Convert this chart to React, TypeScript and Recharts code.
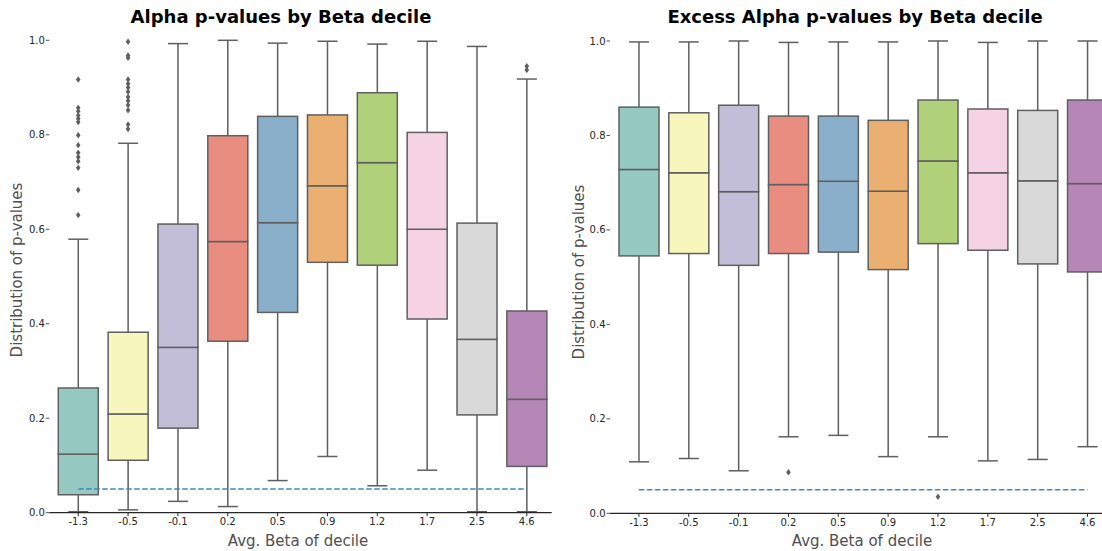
import { Bar, ComposedChart, Line, XAxis, YAxis } from 'recharts'

// avg beta of each decile (x categories)
const deciles = ['-1.3', '-0.5', '-0.1', '0.2', '0.5', '0.9', '1.2', '1.7', '2.5', '4.6']

// alpha p-values: whisker ends, quartiles
const alphaLow = [0.002, 0.006, 0.024, 0.013, 0.068, 0.119, 0.057, 0.09, 0.002, 0.002]
const alphaQ1 = [0.038, 0.111, 0.179, 0.363, 0.424, 0.53, 0.524, 0.41, 0.207, 0.098]
const alphaMedian = [0.124, 0.209, 0.35, 0.574, 0.614, 0.692, 0.741, 0.6, 0.367, 0.24]
const alphaQ3 = [0.264, 0.382, 0.611, 0.798, 0.839, 0.842, 0.889, 0.805, 0.613, 0.427]
const alphaHigh = [0.579, 0.782, 0.993, 1.0, 0.994, 0.998, 0.992, 0.998, 0.987, 0.918]
const alphaOutliers: Record<string, number[]> = {
  '-1.3': [0.917, 0.857, 0.85, 0.841, 0.834, 0.827, 0.799, 0.778, 0.762, 0.753, 0.744, 0.73, 0.683, 0.63],
  '-0.5': [0.997, 0.968, 0.963, 0.917, 0.908, 0.9, 0.891, 0.88, 0.872, 0.863, 0.852, 0.822, 0.812],
  '4.6': [0.945, 0.937],
}

// excess alpha p-values
const excessLow = [0.109, 0.116, 0.09, 0.162, 0.165, 0.12, 0.162, 0.111, 0.114, 0.141]
const excessQ1 = [0.545, 0.55, 0.525, 0.55, 0.553, 0.516, 0.571, 0.557, 0.528, 0.511]
const excessMedian = [0.728, 0.721, 0.681, 0.696, 0.703, 0.682, 0.746, 0.721, 0.704, 0.698]
const excessQ3 = [0.86, 0.848, 0.864, 0.841, 0.841, 0.832, 0.875, 0.856, 0.853, 0.875]
const excessHigh = [0.998, 0.998, 1.0, 0.997, 0.998, 0.998, 1.0, 0.997, 1.0, 1.0]
const excessOutliers: Record<string, number[]> = {
  '0.2': [0.087],
  '1.2': [0.035],
}

const pThreshold = 0.05
const yTicks = [0, 0.2, 0.4, 0.6, 0.8, 1.0]

const boxColors = ['#95c9c1', '#f6f6bd', '#c2bed7', '#e98d80', '#8aafca', '#e9b072', '#b0d179', '#f5d3e4', '#d9d9d9', '#b687b6']
const edge = '#5f5f5f'
const font = '"DejaVu Sans", sans-serif'

type Row = Record<string, string | number>

function buildRows(lo: number[], q1: number[], med: number[], q3: number[], hi: number[], outliers: Record<string, number[]>) {
  return deciles.map((cat, i) => {
    const row: Row = {
      cat,
      base: lo[i],
      lowWhisker: q1[i] - lo[i],
      boxLow: med[i] - q1[i],
      boxHigh: q3[i] - med[i],
      highWhisker: hi[i] - q3[i],
      thr: pThreshold,
      color: boxColors[i],
    }
    ;(outliers[cat] ?? []).forEach((v, k) => {
      row[`o${k}`] = v
    })
    return row
  })
}

const alphaRows = buildRows(alphaLow, alphaQ1, alphaMedian, alphaQ3, alphaHigh, alphaOutliers)
const excessRows = buildRows(excessLow, excessQ1, excessMedian, excessQ3, excessHigh, excessOutliers)
const alphaOutCount = Math.max(...Object.values(alphaOutliers).map((o) => o.length))
const excessOutCount = Math.max(...Object.values(excessOutliers).map((o) => o.length))

const Empty = () => <g />

function LowWhisker(p: any) {
  const cx = p.x + p.width / 2
  const cap = p.width / 4
  const bottom = p.y + p.height
  return (
    <g>
      <line x1={cx} x2={cx} y1={p.y} y2={bottom} stroke={edge} strokeWidth={1.5} />
      <line x1={cx - cap} x2={cx + cap} y1={bottom} y2={bottom} stroke={edge} strokeWidth={1.5} />
    </g>
  )
}

function HighWhisker(p: any) {
  const cx = p.x + p.width / 2
  const cap = p.width / 4
  return (
    <g>
      <line x1={cx} x2={cx} y1={p.y} y2={p.y + p.height} stroke={edge} strokeWidth={1.5} />
      <line x1={cx - cap} x2={cx + cap} y1={p.y} y2={p.y} stroke={edge} strokeWidth={1.5} />
    </g>
  )
}

function BoxHalf(p: any) {
  return <rect x={p.x} y={p.y} width={p.width} height={p.height} fill={p.payload.color} stroke={edge} strokeWidth={1.5} />
}

function Diamond(p: any) {
  const key = `d-${p.dataKey}-${p.index}`
  if (p.value == null || p.cy == null || Number.isNaN(p.cy)) return <g key={key} />
  const { cx, cy } = p
  return <path key={key} d={`M${cx},${cy - 3.2}L${cx + 2.3},${cy}L${cx},${cy + 3.2}L${cx - 2.3},${cy}Z`} fill={edge} />
}

interface PanelProps {
  rows: Row[]
  outCount: number
  margin: { top: number; right: number; bottom: number; left: number }
  yAxisWidth: number
}

function BoxPanel({ rows, outCount, margin, yAxisWidth }: PanelProps) {
  return (
    <ComposedChart width={560} height={551} data={rows} margin={margin} barCategoryGap="10%">
      <XAxis
        dataKey="cat"
        type="category"
        padding={{ left: 4, right: 0 }}
        axisLine={{ stroke: '#262626', strokeWidth: 1.2 }}
        tickLine={{ stroke: '#262626', strokeWidth: 1 }}
        tickSize={3.5}
        tickMargin={2}
        tick={{ fill: '#262626', fontSize: 10, fontFamily: font }}
        interval={0}
      />
      <YAxis
        type="number"
        domain={[0, 1]}
        ticks={yTicks}
        width={yAxisWidth}
        axisLine={false}
        tickLine={{ stroke: '#262626', strokeWidth: 0.8 }}
        tickSize={3.5}
        tickMargin={1}
        tickFormatter={(v: number) => v.toFixed(1)}
        tick={{ fill: '#262626', fontSize: 10, fontFamily: font }}
      />
      <Bar dataKey="base" stackId="box" shape={Empty} isAnimationActive={false} />
      <Bar dataKey="lowWhisker" stackId="box" shape={LowWhisker} isAnimationActive={false} />
      <Bar dataKey="boxLow" stackId="box" shape={BoxHalf} isAnimationActive={false} />
      <Bar dataKey="boxHigh" stackId="box" shape={BoxHalf} isAnimationActive={false} />
      <Bar dataKey="highWhisker" stackId="box" shape={HighWhisker} isAnimationActive={false} />
      <Line
        dataKey="thr"
        stroke="#3b87c1"
        strokeWidth={1.5}
        strokeDasharray="5.5 2.5"
        dot={false}
        activeDot={false}
        isAnimationActive={false}
      />
      {Array.from({ length: outCount }, (_, k) => (
        <Line
          key={k}
          dataKey={`o${k}`}
          stroke="none"
          dot={Diamond}
          activeDot={false}
          isAnimationActive={false}
        />
      ))}
    </ComposedChart>
  )
}

export default function App() {
  return (
    <div style={{ position: 'fixed', left: 0, top: 0, width: 1102, height: 551, overflow: 'hidden', background: '#fff' }}>
      <div style={{ position: 'absolute', left: 0, top: 0 }}>
        <BoxPanel rows={alphaRows} outCount={alphaOutCount} margin={{ top: 40.3, right: 8.3, bottom: 8.3, left: 0 }} yAxisWidth={49.3} />
      </div>
      <div style={{ position: 'absolute', left: 560, top: 0 }}>
        <BoxPanel rows={excessRows} outCount={excessOutCount} margin={{ top: 41, right: 7.6, bottom: 7.7, left: 0 }} yAxisWidth={50} />
      </div>
      <svg width={1102} height={551} style={{ position: 'absolute', left: 0, top: 0, pointerEvents: 'none' }} fontFamily={font}>
        <text x={281} y={22.5} textAnchor="middle" fontSize={18} fontWeight="bold" fill="#000">
          Alpha p-values by Beta decile
        </text>
        <text x={855} y={23} textAnchor="middle" fontSize={18} fontWeight="bold" fill="#000">
          Excess Alpha p-values by Beta decile
        </text>
        <text x={298} y={545.5} textAnchor="middle" fontSize={15} fill="#4f4f4f">
          Avg. Beta of decile
        </text>
        <text x={862} y={545.5} textAnchor="middle" fontSize={15} fill="#4f4f4f">
          Avg. Beta of decile
        </text>
        <text x={22} y={270} textAnchor="middle" fontSize={15} fill="#4f4f4f" transform="rotate(-90 22 270)">
          Distribution of p-values
        </text>
        <text x={584} y={272} textAnchor="middle" fontSize={15} fill="#4f4f4f" transform="rotate(-90 584 272)">
          Distribution of p-values
        </text>
      </svg>
    </div>
  )
}
